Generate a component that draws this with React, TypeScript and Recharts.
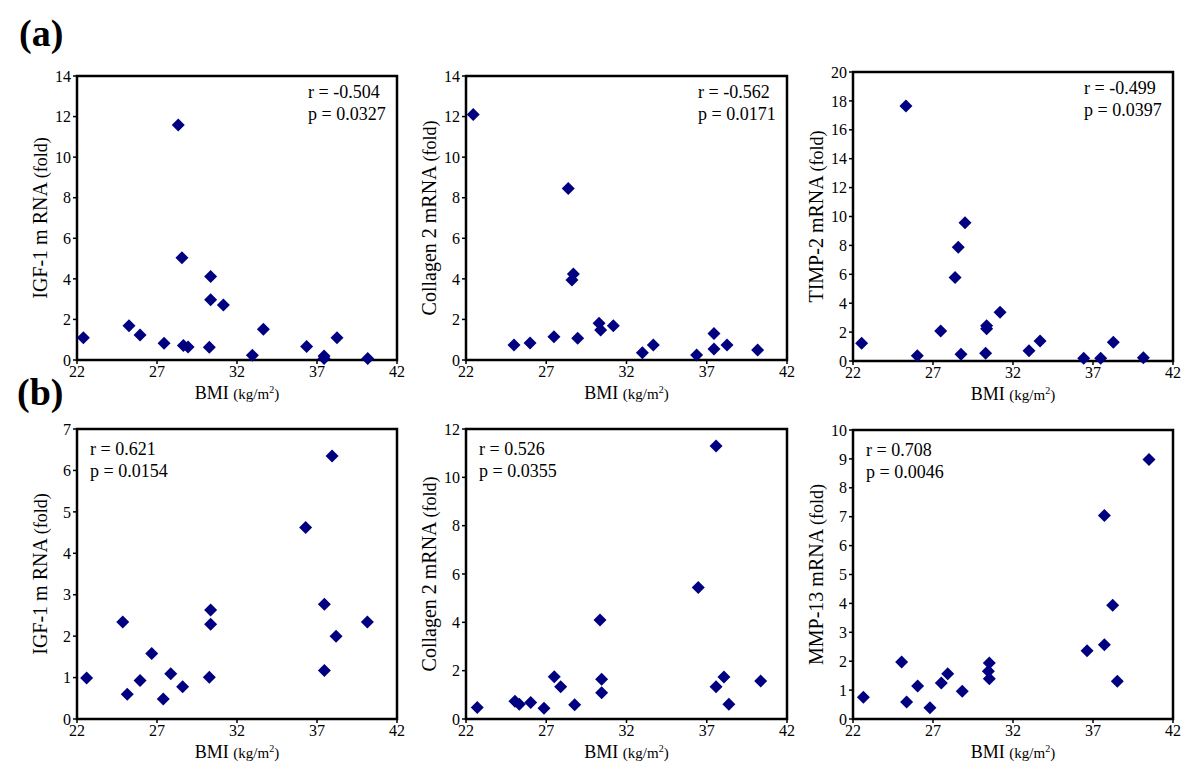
import { ScatterChart, Scatter, XAxis, YAxis, ReferenceArea } from 'recharts';

const FONT = '"Liberation Serif", "Times New Roman", serif';
const MARKER = '#000080';

const BMI_TICKS = [22, 27, 32, 37, 42];

// (a) row
const A_IGF1_BMI = [22.4, 25.25, 25.94, 27.44, 28.33, 28.56, 28.65, 28.94, 30.27, 30.35, 30.35, 31.15, 32.96, 33.65, 36.35, 37.44, 37.44, 38.25, 40.17];
const A_IGF1_FOLD = [1.1, 1.69, 1.23, 0.82, 11.58, 5.04, 0.72, 0.64, 0.63, 4.12, 2.97, 2.71, 0.23, 1.51, 0.66, 0.2, 0.07, 1.1, 0.07];

const A_COL2_BMI = [22.45, 24.99, 25.99, 27.48, 28.37, 28.6, 28.69, 28.96, 30.29, 30.39, 31.18, 32.99, 33.67, 36.37, 37.45, 37.45, 38.26, 40.17];
const A_COL2_FOLD = [12.1, 0.74, 0.84, 1.15, 8.46, 3.94, 4.24, 1.07, 1.81, 1.48, 1.69, 0.36, 0.74, 0.25, 1.31, 0.54, 0.74, 0.49];

const A_TIMP2_BMI = [22.54, 25.31, 26.02, 27.48, 28.38, 28.58, 28.75, 29.0, 30.29, 30.35, 30.35, 31.19, 33.0, 33.69, 36.42, 37.48, 38.27, 40.15];
const A_TIMP2_FOLD = [1.22, 17.65, 0.37, 2.08, 5.77, 7.87, 0.46, 9.57, 0.53, 2.44, 2.24, 3.37, 0.71, 1.38, 0.19, 0.19, 1.29, 0.23];

// (b) row
const B_IGF1_BMI = [22.6, 24.86, 25.14, 25.94, 26.67, 27.39, 27.86, 28.6, 30.27, 30.35, 30.35, 36.29, 37.46, 37.46, 37.94, 38.19, 40.15];
const B_IGF1_FOLD = [0.99, 2.34, 0.6, 0.93, 1.58, 0.48, 1.09, 0.78, 1.01, 2.29, 2.63, 4.62, 2.77, 1.17, 6.35, 2.0, 2.34];

const B_COL2_BMI = [22.7, 25.05, 25.32, 26.03, 26.86, 27.5, 27.9, 28.77, 30.35, 30.45, 30.45, 36.47, 37.58, 37.58, 38.07, 38.38, 40.36];
const B_COL2_FOLD = [0.48, 0.73, 0.61, 0.68, 0.44, 1.75, 1.33, 0.59, 4.1, 1.64, 1.09, 5.44, 11.3, 1.33, 1.74, 0.61, 1.57];

const B_MMP13_BMI = [22.65, 25.04, 25.35, 26.04, 26.81, 27.52, 27.92, 28.83, 30.52, 30.46, 30.52, 36.63, 37.71, 37.71, 38.23, 38.52, 40.5];
const B_MMP13_FOLD = [0.75, 1.97, 0.59, 1.14, 0.39, 1.25, 1.57, 0.96, 1.94, 1.65, 1.39, 2.36, 2.57, 7.04, 3.94, 1.31, 8.98];

const Y_TICKS_14 = [0, 2, 4, 6, 8, 10, 12, 14];
const Y_TICKS_20 = [0, 2, 4, 6, 8, 10, 12, 14, 16, 18, 20];
const Y_TICKS_7 = [0, 1, 2, 3, 4, 5, 6, 7];
const Y_TICKS_12 = [0, 2, 4, 6, 8, 10, 12];
const Y_TICKS_10 = [0, 1, 2, 3, 4, 5, 6, 7, 8, 9, 10];

const Diamond = (props: any) => {
  const { cx, cy } = props;
  if (cx == null || cy == null) return null;
  return (
    <path
      d={`M${cx},${cy - 6.5} L${cx + 6.5},${cy} L${cx},${cy + 6.5} L${cx - 6.5},${cy} Z`}
      fill={MARKER}
    />
  );
};

interface PanelProps {
  box: { x: number; y: number; w: number; h: number };
  bmi: number[];
  fold: number[];
  yTicks: number[];
  yLabel: string;
  r: string;
  p: string;
  statsLeft?: boolean;
}

const ML = 62;
const MT = 12;
const MR = 15;
const XH = 50;

const Panel = ({ box, bmi, fold, yTicks, yLabel, r, p, statsLeft }: PanelProps) => {
  const points = bmi.map((b, i) => ({ bmi: b, fold: fold[i] }));
  const yMax = yTicks[yTicks.length - 1];

  // stats text and axis titles, placed relative to the plot frame
  const frameText = (props: any) => {
    const { x, y, width, height } = props.viewBox;
    const sx = statsLeft ? x + 13 : x + width - 89;
    const r0 = statsLeft ? y + 26 : y + 22;
    const ylx = x - 30;
    const yly = y + height / 2;
    return (
      <g fill="#000">
        <text x={sx} y={r0} style={{ fontSize: 18 }}>{`r = ${r}`}</text>
        <text x={sx} y={r0 + 22} style={{ fontSize: 18 }}>{`p = ${p}`}</text>
        <text x={x + width / 2} y={y + height + 39} textAnchor="middle">
          <tspan style={{ fontSize: 18 }}>BMI </tspan>
          <tspan style={{ fontSize: 15 }}>(kg/m</tspan>
          <tspan style={{ fontSize: 10 }} dy={-6}>2</tspan>
          <tspan style={{ fontSize: 15 }} dy={6}>)</tspan>
        </text>
        <text
          x={ylx}
          y={yly}
          textAnchor="middle"
          transform={`rotate(-90 ${ylx} ${yly})`}
        >
          <tspan style={{ fontSize: 20 }}>{`${yLabel} `}</tspan>
          <tspan style={{ fontSize: 18 }}>(fold)</tspan>
        </text>
      </g>
    );
  };

  return (
    <div style={{ position: 'absolute', left: box.x - ML, top: box.y - MT }}>
      <ScatterChart
        width={box.w + ML + MR}
        height={box.h + MT + XH}
        margin={{ top: MT, right: MR, bottom: 0, left: ML - 50 }}
      >
        <XAxis
          type="number"
          dataKey="bmi"
          domain={[22, 42]}
          ticks={BMI_TICKS}
          interval={0}
          height={XH}
          axisLine={false}
          tickSize={4}
          tickLine={{ stroke: '#000', strokeWidth: 1.5 }}
          tick={{ fontSize: 16, fill: '#000' }}
        />
        <YAxis
          type="number"
          dataKey="fold"
          domain={[0, yMax]}
          ticks={yTicks}
          interval={0}
          width={50}
          axisLine={false}
          tickSize={4}
          tickLine={{ stroke: '#000', strokeWidth: 1.5 }}
          tick={{ fontSize: 16, fill: '#000' }}
        />
        <ReferenceArea
          x1={22}
          x2={42}
          y1={0}
          y2={yMax}
          fill="none"
          stroke="#000"
          strokeWidth={2.5}
          label={frameText}
        />
        <Scatter data={points} shape={Diamond} isAnimationActive={false} />
      </ScatterChart>
    </div>
  );
};

const CSS = `
.fig-root svg text { font-family: "Liberation Serif", "Times New Roman", serif; }
.fig-root .recharts-cartesian-axis-tick-value,
.fig-root .recharts-cartesian-axis-tick-value tspan {
  font-family: "Liberation Serif", "Times New Roman", serif !important;
  font-size: 16px !important;
  fill: #000 !important;
}
`;

export default function App() {
  return (
    <div
      className="fig-root"
      style={{
        position: 'absolute',
        left: 0,
        top: 0,
        width: 1200,
        height: 774,
        background: '#fff',
        fontFamily: FONT,
      }}
    >
      <style>{CSS}</style>
      <div style={{ position: 'absolute', left: 19, top: 14, fontSize: 38, fontWeight: 'bold', lineHeight: 1 }}>
        (a)
      </div>
      <div style={{ position: 'absolute', left: 17, top: 373, fontSize: 38, fontWeight: 'bold', lineHeight: 1 }}>
        (b)
      </div>

      <Panel box={{ x: 77, y: 76, w: 320, h: 284 }} bmi={A_IGF1_BMI} fold={A_IGF1_FOLD}
        yTicks={Y_TICKS_14} yLabel="IGF-1 m RNA" r="-0.504" p="0.0327" />
      <Panel box={{ x: 466, y: 76, w: 321, h: 284 }} bmi={A_COL2_BMI} fold={A_COL2_FOLD}
        yTicks={Y_TICKS_14} yLabel="Collagen 2 mRNA" r="-0.562" p="0.0171" />
      <Panel box={{ x: 853, y: 72, w: 320, h: 289 }} bmi={A_TIMP2_BMI} fold={A_TIMP2_FOLD}
        yTicks={Y_TICKS_20} yLabel="TIMP-2 mRNA" r="-0.499" p="0.0397" />

      <Panel box={{ x: 77, y: 429, w: 320, h: 290 }} bmi={B_IGF1_BMI} fold={B_IGF1_FOLD}
        yTicks={Y_TICKS_7} yLabel="IGF-1 m RNA" r="0.621" p="0.0154" statsLeft />
      <Panel box={{ x: 466, y: 429, w: 321, h: 290 }} bmi={B_COL2_BMI} fold={B_COL2_FOLD}
        yTicks={Y_TICKS_12} yLabel="Collagen 2 mRNA" r="0.526" p="0.0355" statsLeft />
      <Panel box={{ x: 853, y: 430, w: 320, h: 289 }} bmi={B_MMP13_BMI} fold={B_MMP13_FOLD}
        yTicks={Y_TICKS_10} yLabel="MMP-13 mRNA" r="0.708" p="0.0046" statsLeft />
    </div>
  );
}
